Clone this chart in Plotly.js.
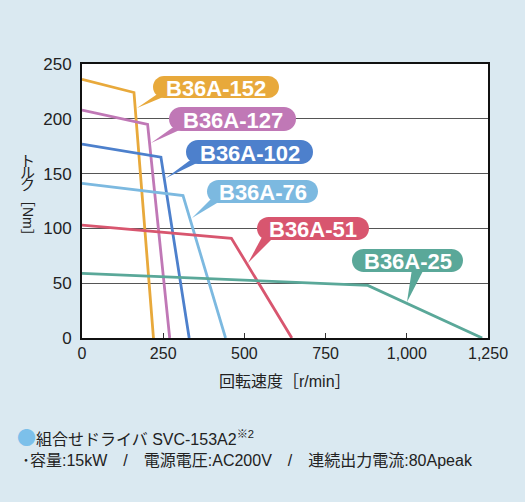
<!DOCTYPE html>
<html>
<head>
<meta charset="utf-8">
<script src="https://cdn.plot.ly/plotly-3.0.1.min.js"></script>
<style>html,body{margin:0;padding:0;background:#dae9f1;}</style>
</head>
<body>
<div id="chart" style="width:525px;height:502px;"></div>
<script>
// ---- data ----
const seriesNames = ["B36A-152", "B36A-127", "B36A-102", "B36A-76", "B36A-51", "B36A-25"];
const speed152 = [0, 160, 220];
const torque152 = [236, 224, 0];
const speed127 = [0, 202, 270];
const torque127 = [208, 195, 0];
const speed102 = [0, 243, 330];
const torque102 = [177, 165, 0];
const speed76 = [0, 311, 442];
const torque76 = [141, 130, 0];
const speed51 = [0, 460, 646];
const torque51 = [103, 91, 0];
const speed25 = [0, 880, 1232];
const torque25 = [59, 48, 0];
const xTickVals = [0, 250, 500, 750, 1000, 1250];
const xTickText = ["0", "250", "500", "750", "1,000", "1,250"];
const yTickVals = [0, 50, 100, 150, 200, 250];

const colors = ["#e8a93b", "#c078b6", "#4d80cc", "#7cb9e0", "#d8566f", "#5aa899"];
const speeds = [speed152, speed127, speed102, speed76, speed51, speed25];
const torques = [torque152, torque127, torque102, torque76, torque51, torque25];

const W = 525, H = 502;
const L = 82, R = 488, T = 64, B = 338;
function px(X) { return (X - L) / (R - L); }
function py(Y) { return (B - Y) / (B - T); }

const traces = seriesNames.map((n, i) => ({
  x: speeds[i], y: torques[i], name: n, type: "scatter", mode: "lines",
  line: { color: colors[i], width: 2.8 }, hoverinfo: "skip"
}));

// label pill geometry (pixels): x0, x1, y0, y1, tailBase0, tailBase1, tipX, tipY
const pills = [
  [153, 279, 76, 98, 156, 168, 137, 108],
  [169, 296, 107, 131, 172, 184, 151, 143],
  [186, 313, 140, 164, 189, 201, 166, 178],
  [207, 318, 180, 203, 210, 222, 192, 218],
  [257, 369, 217, 240, 262, 274, 248, 263],
  [352, 463, 249, 272, 412, 424, 407, 302]
];
const shapes = [];
const annotations = [];
const k = 0.5523;
function pt(X, Y) { return px(X).toFixed(5) + "," + py(Y).toFixed(5); }
pills.forEach((p, i) => {
  const [x0, x1, y0, y1, b0, b1, tx, ty] = p;
  const r = (y1 - y0) / 2, ym = (y0 + y1) / 2;
  const path = "M" + pt(x0 + r, y0) + " L" + pt(x1 - r, y0) +
    " C" + pt(x1 - r + k * r, y0) + " " + pt(x1, ym - k * r) + " " + pt(x1, ym) +
    " C" + pt(x1, ym + k * r) + " " + pt(x1 - r + k * r, y1) + " " + pt(x1 - r, y1) +
    " L" + pt(x0 + r, y1) +
    " C" + pt(x0 + r - k * r, y1) + " " + pt(x0, ym + k * r) + " " + pt(x0, ym) +
    " C" + pt(x0, ym - k * r) + " " + pt(x0 + r - k * r, y0) + " " + pt(x0 + r, y0) + " Z";
  shapes.push({ type: "path", xref: "paper", yref: "paper", path: path,
    fillcolor: colors[i], line: { width: 0 }, layer: "above" });
  const tail = "M" + pt(b0, y1 - 3) + " L" + pt(b1, y1 - 3) + " L" + pt(tx, ty) + " Z";
  shapes.push({ type: "path", xref: "paper", yref: "paper", path: tail,
    fillcolor: colors[i], line: { width: 0 }, layer: "above" });
  annotations.push({ xref: "paper", yref: "paper", x: px((x0 + x1) / 2), y: py(ym + 1),
    xanchor: "center", yanchor: "middle", showarrow: false, text: seriesNames[i],
    font: { family: "Liberation Sans, Arial, sans-serif", size: 22, color: "#ffffff", weight: "bold" } });
});

const cjk = "Noto Sans CJK JP, sans-serif";
const jp = "Liberation Sans, Noto Sans CJK JP, sans-serif";
// y title (vertical Japanese)
[["ト", 159], ["ル", 171], ["ク", 183]].forEach(c => {
  annotations.push({ xref: "paper", yref: "paper", x: px(27), y: py(c[1]), xanchor: "center", yanchor: "middle",
    showarrow: false, text: c[0], font: { family: cjk, size: 15, color: "#222" } });
});
annotations.push({ xref: "paper", yref: "paper", x: px(28), y: py(218), xanchor: "center", yanchor: "middle",
  showarrow: false, text: "［Nm］", textangle: 90, font: { family: jp, size: 14, color: "#222" } });
// x title
annotations.push({ xref: "paper", yref: "paper", x: px(285), y: py(381), xanchor: "center", yanchor: "middle",
  showarrow: false, text: "回転速度［r/min］", font: { family: jp, size: 16, color: "#222" } });
// footnotes
annotations.push({ xref: "paper", yref: "paper", x: px(15), y: py(436), xanchor: "left", yanchor: "middle",
  showarrow: false, text: "<span style=\"color:#7cc0ea;font-size:19px;font-family:'Noto Sans CJK JP'\">●</span>組合せドライバ SVC-153A2<sup>※2</sup>",
  font: { family: jp, size: 16, color: "#222" } });
annotations.push({ xref: "paper", yref: "paper", x: px(20), y: py(460), xanchor: "left", yanchor: "middle",
  showarrow: false, text: "･容量:15kW\u2003/\u2003電源電圧:AC200V\u2003/\u2003連続出力電流:80Apeak",
  font: { family: jp, size: 16, color: "#222" } });

const layout = {
  width: W, height: H,
  margin: { l: L, r: W - R, t: T, b: H - B, pad: 0 },
  paper_bgcolor: "#dae9f1", plot_bgcolor: "#ffffff",
  showlegend: false,
  xaxis: {
    range: [0, 1250], tickvals: xTickVals, ticktext: xTickText,
    ticks: "inside", ticklen: 5, tickcolor: "#333", tickwidth: 1,
    showgrid: false, zeroline: false,
    showline: true, linecolor: "#111", linewidth: 2, mirror: true,
    tickfont: { family: "Liberation Sans, Arial, sans-serif", size: 16, color: "#222" },
    fixedrange: true
  },
  yaxis: {
    range: [0, 250], tickvals: yTickVals,
    ticks: "", showgrid: true, gridcolor: "#555", gridwidth: 1,
    zeroline: false, showline: true, linecolor: "#111", linewidth: 2, mirror: true,
    tickfont: { family: "Liberation Sans, Arial, sans-serif", size: 17, color: "#222" },
    ticklabelstandoff: 5,
    fixedrange: true
  },
  shapes: shapes,
  annotations: annotations
};
Plotly.newPlot("chart", traces, layout, { displayModeBar: false, staticPlot: true });
</script>
</body>
</html>
